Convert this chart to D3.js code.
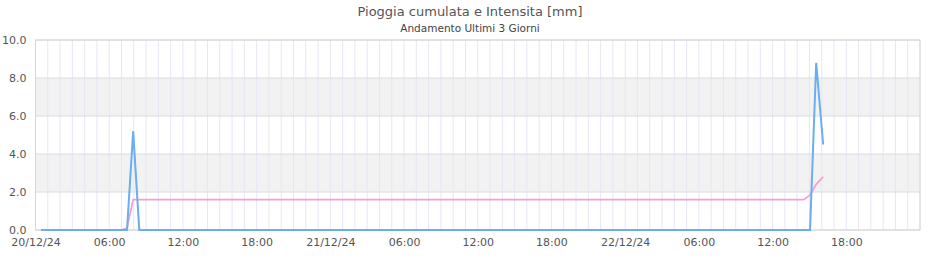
<!DOCTYPE html>
<html>
<head>
<meta charset="utf-8">
<script src="https://cdn.jsdelivr.net/npm/d3@7"></script>
<style>
  body { margin: 0; background: #fff; }
  svg { display: block; font-family: "DejaVu Sans", sans-serif; }
</style>
</head>
<body>
<svg id="chart" width="940" height="260"></svg>
<script>
// Chart data
let titleText = 'Pioggia cumulata e Intensita [mm]';
let subtitleText = 'Andamento Ultimi 3 Giorni';
let timeRange = ['2024-12-20 00:00', '2024-12-23 00:00'];
let yTicks = [0, 2, 4, 6, 8, 10];
let bands = [[2, 4], [6, 8]];

// Intensity (blue)
let intensityTimes = ['2024-12-20 00:27', '2024-12-20 07:27', '2024-12-20 07:57', '2024-12-20 08:27',
  '2024-12-22 15:03', '2024-12-22 15:33', '2024-12-22 16:07'];
let intensityValues = [0, 0, 5.2, 0, 0, 8.8, 4.5];

// Cumulated rain (pink)
let cumulTimes = ['2024-12-20 00:27', '2024-12-20 06:57', '2024-12-20 07:27', '2024-12-20 07:57',
  '2024-12-22 14:33', '2024-12-22 15:03', '2024-12-22 15:33', '2024-12-22 16:07'];
let cumulValues = [0, 0, 0.1, 1.6, 1.6, 1.85, 2.4, 2.8];

let parse = d3.timeParse('%Y-%m-%d %H:%M');

let margin = {top: 40, right: 20, bottom: 30, left: 35.5},
  width = 940 - margin.left - margin.right,
  height = 260 - margin.top - margin.bottom;

let svg = d3.select('#chart');

svg.append('text')
  .attr('x', 470).attr('y', 16)
  .attr('text-anchor', 'middle')
  .attr('font-size', 13)
  .attr('fill', '#555')
  .text(titleText);

svg.append('text')
  .attr('x', 470).attr('y', 32)
  .attr('text-anchor', 'middle')
  .attr('font-size', 10.5)
  .attr('fill', '#444')
  .text(subtitleText);

let g = svg.append('g')
  .attr('transform', 'translate(' + margin.left + ',' + margin.top + ')');

let x = d3.scaleTime()
  .domain(timeRange.map(parse))
  .range([0, width]);

let y = d3.scaleLinear()
  .domain([0, 10])
  .range([height, 0]);

// alternate bands
g.selectAll('.band')
  .data(bands)
  .enter().append('rect')
  .attr('class', 'band')
  .attr('x', 0)
  .attr('width', width)
  .attr('y', (d) => y(d[1]))
  .attr('height', (d) => y(d[0]) - y(d[1]))
  .attr('fill', '#f2f2f2');

// hourly vertical grid
g.selectAll('.vgrid')
  .data(x.ticks(d3.timeHour.every(1)))
  .enter().append('line')
  .attr('class', 'vgrid')
  .attr('x1', (d) => x(d)).attr('x2', (d) => x(d))
  .attr('y1', 0).attr('y2', height)
  .attr('stroke', '#e6e6f8')
  .attr('stroke-width', 1);

// horizontal grid
g.selectAll('.hgrid')
  .data(yTicks)
  .enter().append('line')
  .attr('class', 'hgrid')
  .attr('x1', 0).attr('x2', width)
  .attr('y1', (d) => y(d)).attr('y2', (d) => y(d))
  .attr('stroke', '#dcdcdc');

// frame
g.append('rect')
  .attr('x', 0).attr('y', 0)
  .attr('width', width).attr('height', height)
  .attr('fill', 'none')
  .attr('stroke', '#d6d6d6');

let line = d3.line()
  .x((d) => x(d.t))
  .y((d) => y(d.v));

let cumul = cumulTimes.map((t, i) => ({t: parse(t), v: cumulValues[i]}));
let intensity = intensityTimes.map((t, i) => ({t: parse(t), v: intensityValues[i]}));

g.append('path')
  .datum(cumul)
  .attr('d', line)
  .attr('fill', 'none')
  .attr('stroke', '#f4a0d0')
  .attr('stroke-width', 1.8);

g.append('path')
  .datum(intensity)
  .attr('d', line)
  .attr('fill', 'none')
  .attr('stroke', '#6aaef0')
  .attr('stroke-width', 2);

// x axis labels
let xTicks = x.ticks(d3.timeHour.every(6)).filter((d) => d < x.domain()[1]);
let fmt = (d) => d.getHours() === 0 ? d3.timeFormat('%d/%m/%y')(d) : d3.timeFormat('%H:%M')(d);

let xAxis = g.append('g')
  .attr('transform', 'translate(0,' + height + ')')
  .call(d3.axisBottom(x).tickValues(xTicks).tickFormat(fmt).tickSize(0).tickPadding(8))
  .attr('font-size', 11)
  .attr('font-family', '"DejaVu Sans", sans-serif');
xAxis.select('.domain').remove();
xAxis.selectAll('text').attr('fill', '#555');

let yAxis = g.append('g')
  .call(d3.axisLeft(y).tickValues(yTicks).tickFormat(d3.format('.1f')).tickSize(0).tickPadding(9))
  .attr('font-size', 11)
  .attr('font-family', '"DejaVu Sans", sans-serif');
yAxis.select('.domain').remove();
yAxis.selectAll('text').attr('fill', '#555');
</script>
</body>
</html>
